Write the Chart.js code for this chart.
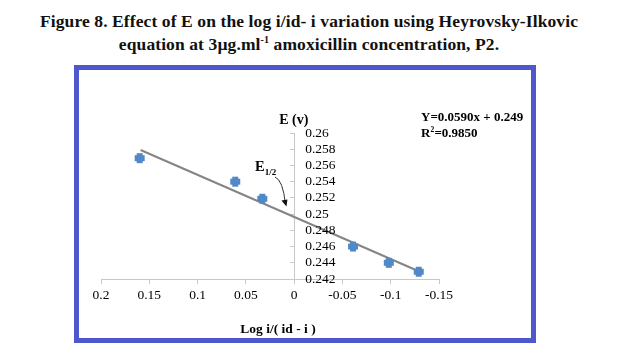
<!DOCTYPE html>
<html>
<head>
<meta charset="utf-8">
<script src="https://cdn.jsdelivr.net/npm/chart.js@4.4.0/dist/chart.umd.min.js"></script>
<style>
  body { margin: 0; background: #fff; }
  #wrap { position: relative; width: 618px; height: 362px; overflow: hidden; }
  #title {
    position: absolute; left: 0; top: 10px; width: 618px;
    text-align: center; font: bold 17.5px 'Liberation Serif', serif; line-height: 23px; color: #111;
    letter-spacing: 0.1px;
  }
  #title sup { font-size: 10px; line-height: 0; }
  #frame {
    position: absolute; left: 74px; top: 65px; width: 452px; height: 268px;
    border: 5px solid #4f57cf;
  }
  canvas { position: absolute; left: 0; top: 0; }
</style>
</head>
<body>
<div id="wrap">
  <div id="title">Figure 8. Effect of E on the log i/id- i variation using Heyrovsky-Ilkovic<br>equation at 3µg.ml<sup>-1</sup> amoxicillin concentration, P2.</div>
  <div id="frame"></div>
  <canvas id="chart" width="618" height="362"></canvas>
</div>
<script>
// --- data ---
const logRatio = [0.160, 0.061, 0.033, -0.061, -0.098, -0.129];
const potential = [0.2569, 0.2540, 0.2519, 0.2460, 0.2440, 0.2429];

// trendline end points as drawn
const trendX = [0.159, -0.132];
const trendY = [0.2579, 0.2428];

const xTickValues = [0.2, 0.15, 0.1, 0.05, 0, -0.05, -0.1, -0.15];
const xTickLabels = ['0.2', '0.15', '0.1', '0.05', '0', '-0.05', '-0.1', '-0.15'];
const yTickValues = [0.26, 0.258, 0.256, 0.254, 0.252, 0.25, 0.248, 0.246, 0.244, 0.242];
const yTickLabels = ['0.26', '0.258', '0.256', '0.254', '0.252', '0.25', '0.248', '0.246', '0.244', '0.242'];

const axisColor = '#c8c8c8';
const serif = "'Liberation Serif', serif";

// thick plus marker like the Excel one
function makeMarker() {
    const c = document.createElement('canvas');
    c.width = 12; c.height = 12;
    const g = c.getContext('2d');
    g.fillStyle = '#5388c8';
    g.fillRect(1, 3, 10, 6);
    g.fillRect(3, 1, 6, 10);
    return c;
}

// y tick labels sit right of the axis, plus the annotations
const annotations = {
    id: 'annotations',
    afterDraw(chart) {
        const ctx = chart.ctx;
        const xs = chart.scales.x, ys = chart.scales.y;
        const axisX = xs.getPixelForValue(0);
        ctx.save();
        ctx.fillStyle = '#000';
        ctx.textBaseline = 'middle';
        ctx.textAlign = 'left';
        ctx.font = '13.5px ' + serif;
        yTickValues.forEach((v, i) => {
            ctx.fillText(yTickLabels[i], axisX + 11, ys.getPixelForValue(v));
        });

        // axis titles
        ctx.font = 'bold 14px ' + serif;
        ctx.fillText('E (v)', axisX - 15, ys.top - 13);
        ctx.textAlign = 'center';
        ctx.font = 'bold 13.5px ' + serif;
        ctx.fillText('Log i/( id - i )', 278, 330);

        // equation
        ctx.textAlign = 'left';
        ctx.font = 'bold 13px ' + serif;
        ctx.fillText('Y=0.0590x + 0.249', 421, 118);
        ctx.fillText('R', 421, 134);
        const rw = ctx.measureText('R').width;
        ctx.font = 'bold 7.5px ' + serif;
        ctx.fillText('2', 421 + rw, 130);
        ctx.font = 'bold 13px ' + serif;
        ctx.fillText('=0.9850', 421 + rw + 4, 134);

        // E1/2 label with arrow
        ctx.font = 'bold 14.5px ' + serif;
        ctx.fillText('E', 255, 167);
        const ew = ctx.measureText('E').width;
        ctx.font = 'bold 9px ' + serif;
        ctx.fillText('1/2', 255 + ew, 173);

        const sx = 275, sy = 177;
        const tx = xs.getPixelForValue(0.009), ty = ys.getPixelForValue(0.2512);
        ctx.strokeStyle = '#333';
        ctx.lineWidth = 1;
        ctx.beginPath();
        ctx.moveTo(sx, sy);
        ctx.quadraticCurveTo(283, 180, tx, ty);
        ctx.stroke();
        ctx.fillStyle = '#111';
        ctx.beginPath();
        ctx.moveTo(tx + 1, ty + 2);
        ctx.lineTo(tx - 4, ty - 4);
        ctx.lineTo(tx + 2, ty - 5);
        ctx.closePath();
        ctx.fill();
        ctx.restore();
    }
};

new Chart(document.getElementById('chart'), {
    type: 'scatter',
    data: {
        datasets: [
            {
                data: logRatio.map((x, i) => ({ x: x, y: potential[i] })),
                pointStyle: makeMarker(),
                pointRadius: 6,
                order: 1
            },
            {
                data: trendX.map((x, i) => ({ x: x, y: trendY[i] })),
                showLine: true,
                borderColor: '#858585',
                borderWidth: 2,
                pointRadius: 0,
                order: 2
            }
        ]
    },
    options: {
        responsive: false,
        animation: false,
        events: [],
        layout: { padding: { left: 101, right: 179, top: 133, bottom: 53 } },
        plugins: { legend: { display: false }, tooltip: { enabled: false } },
        scales: {
            x: {
                type: 'linear',
                reverse: true,
                min: -0.15,
                max: 0.2,
                afterBuildTicks: s => { s.ticks = xTickValues.map(v => ({ value: v })); },
                afterFit: s => { s.height = 30; },
                ticks: {
                    callback: (v, i) => xTickLabels[i],
                    color: '#000',
                    font: { family: serif, size: 13.5 },
                    padding: 3,
                    maxRotation: 0,
                    autoSkip: false
                },
                grid: { drawOnChartArea: false, tickLength: 5, color: axisColor },
                border: { color: axisColor }
            },
            y: {
                type: 'linear',
                position: { x: 0 },
                min: 0.242,
                max: 0.26,
                afterBuildTicks: s => { s.ticks = yTickValues.map(v => ({ value: v })); },
                ticks: { display: false },
                grid: { drawOnChartArea: false, tickLength: 4, color: axisColor },
                border: { color: axisColor }
            }
        }
    },
    plugins: [annotations]
});
</script>
</body>
</html>
